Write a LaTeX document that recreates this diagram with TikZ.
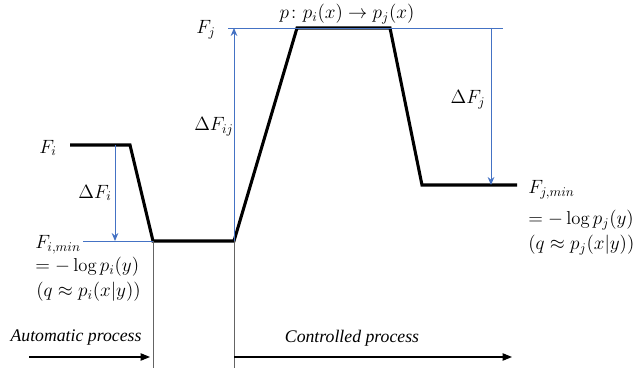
\documentclass[tikz,border=0pt]{standalone}
\usepackage{amsmath, amssymb}
\usepackage{fontspec}
\newfontfamily\procfont{Liberation Serif}
\usepackage{tikz}
\usetikzlibrary{arrows.meta}

\definecolor{refblue}{RGB}{68,114,196}
\definecolor{guidegray}{RGB}{100,100,100}

\begin{document}
\begin{tikzpicture}[x=0.75pt,y=-0.75pt,
    profile/.style={line width=2.3pt,line join=miter},
    refline/.style={refblue,line width=0.7pt},
    refarrow/.style={refblue,line width=0.7pt,-{Stealth[length=6pt,width=5pt,inset=2pt]}},
    guide/.style={guidegray,line width=0.6pt},
    procarrow/.style={line width=0.8pt,-{Triangle[length=7pt,width=5.5pt]}},
    lab/.style={inner sep=0pt,font=\fontsize{14}{17}\selectfont},
    proc/.style={inner sep=0pt,font=\fontsize{13.3}{16}\selectfont\procfont\itshape}]
        \useasboundingbox (0,0) rectangle (640,384);
        % Corners of the free energy profile
        \coordinate (Fi0) at (70,145);
        \coordinate (Fi1) at (130,145);
        \coordinate (Fimin0) at (153,241);
        \coordinate (Fimin1) at (234,241);
        \coordinate (Fj0) at (297,28);
        \coordinate (Fj1) at (390,28);
        \coordinate (Fjmin0) at (422,185);
        \coordinate (Fjmin1) at (517,185);
        \draw[profile] (Fi0) -- (Fi1) -- (Fimin0) -- (Fimin1) --
                       (Fj0) -- (Fj1) -- (Fjmin0) -- (Fjmin1);
        % Blue reference levels
        \coordinate (FiminL) at (83,241);
        \coordinate (FjL) at (228,28);
        \coordinate (FjR) at (503,28);
        \draw[refline] (FiminL) -- (Fimin0);
        \draw[refline] (FjL) -- (FjR);
        % Energy differences
        \coordinate (dFiTop) at (115,145);
        \coordinate (dFiBot) at (115,241);
        \coordinate (dFijTop) at (234,28);
        \coordinate (dFjTop) at (491,28);
        \coordinate (dFjBot) at (491,185);
        \draw[refarrow] (dFiTop) -- (dFiBot);
        \draw[refarrow] (Fimin1) -- (dFijTop);
        \draw[refarrow] (dFjTop) -- (dFjBot);
        % Labels
        \node[lab] (Fi) at (48,148) {$F_i$};
        \node[lab] (dFi) at (95,193) {$\Delta F_i$};
        \node[lab,anchor=west] (Fimin) at (35,245) {$F_{i,min}$};
        \node[lab,anchor=west] (Filog) at (35,267) {$=-\log p_i(y)$};
        \node[lab,anchor=west] (Fiq) at (36,292) {$(q\approx p_i(x|y))$};
        \node[lab] (Fj) at (206,30) {$F_j$};
        \node[lab] (dFij) at (214,127) {$\Delta F_{ij}$};
        \node[lab] (map) at (347,14) {$p\colon p_i(x)\to p_j(x)$};
        \node[lab] (dFj) at (468,100) {$\Delta F_j$};
        \node[lab,anchor=west] (Fjmin) at (528,190) {$F_{j,min}$};
        \node[lab,anchor=west] (Fjlog) at (528,220) {$=-\log p_j(y)$};
        \node[lab,anchor=west] (Fjq) at (528,245) {$(q\approx p_j(x|y))$};
        % Process ranges
        \coordinate (gA) at (153,368);
        \coordinate (gB) at (234,368);
        \draw[guide] (Fimin0) -- (gA);
        \draw[guide] (Fimin1) -- (gB);
        \coordinate (autoS) at (29,357);
        \coordinate (autoE) at (150,357);
        \coordinate (ctrlS) at (234,357);
        \coordinate (ctrlE) at (512,357);
        \draw[procarrow] (autoS) -- (autoE);
        \draw[procarrow] (ctrlS) -- (ctrlE);
        \node[proc] (auto) at (76,338) {Automatic process};
        \node[proc] (ctrl) at (352,338) {Controlled process};
      \end{tikzpicture}
\end{document}
